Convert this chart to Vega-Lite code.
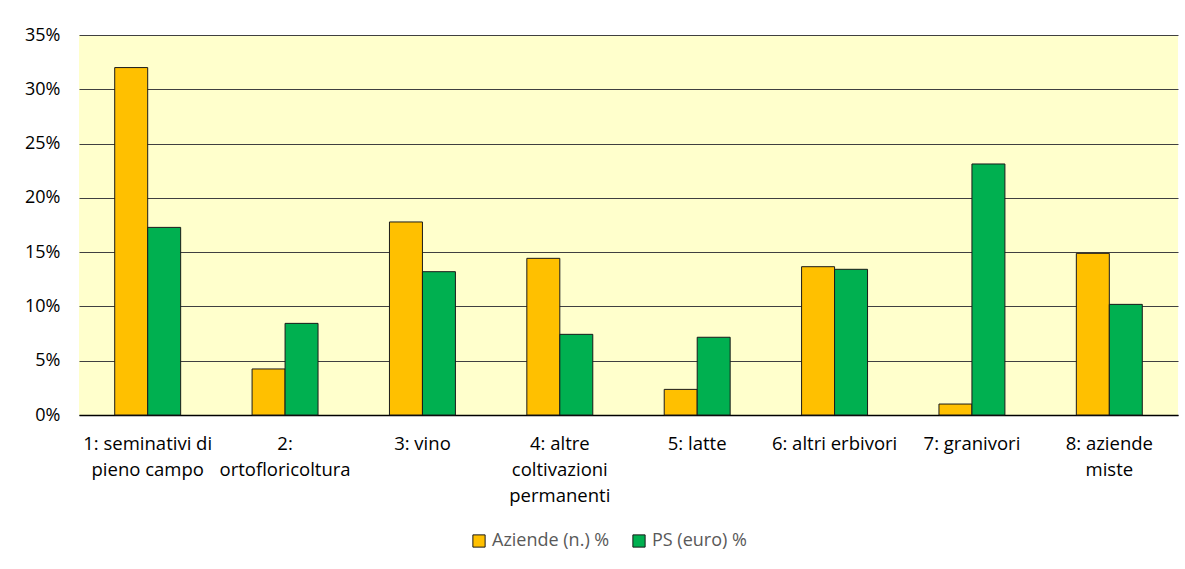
{
  "$schema": "https://vega.github.io/schema/vega-lite/v6.json",
  "width": 1099,
  "height": 380,
  "autosize": {"type": "none"},
  "padding": {"left": 79, "top": 35, "right": 7, "bottom": 154},
  "background": "#ffffff",
  "config": {
    "view": {"fill": "#FFFFCC", "stroke": null},
    "font": "Open Sans"
  },
  "data": {
    "values": [
      {"categoria": "1: seminativi di\npieno campo", "serie": "Aziende (n.) %", "valore": 0.320},
      {"categoria": "1: seminativi di\npieno campo", "serie": "PS (euro) %", "valore": 0.1728},
      {"categoria": "2:\nortofloricoltura", "serie": "Aziende (n.) %", "valore": 0.0424},
      {"categoria": "2:\nortofloricoltura", "serie": "PS (euro) %", "valore": 0.0844},
      {"categoria": "3: vino", "serie": "Aziende (n.) %", "valore": 0.1778},
      {"categoria": "3: vino", "serie": "PS (euro) %", "valore": 0.132},
      {"categoria": "4: altre\ncoltivazioni\npermanenti", "serie": "Aziende (n.) %", "valore": 0.1443},
      {"categoria": "4: altre\ncoltivazioni\npermanenti", "serie": "PS (euro) %", "valore": 0.0743},
      {"categoria": "5: latte", "serie": "Aziende (n.) %", "valore": 0.0236},
      {"categoria": "5: latte", "serie": "PS (euro) %", "valore": 0.0716},
      {"categoria": "6: altri erbivori", "serie": "Aziende (n.) %", "valore": 0.1366},
      {"categoria": "6: altri erbivori", "serie": "PS (euro) %", "valore": 0.1342},
      {"categoria": "7: granivori", "serie": "Aziende (n.) %", "valore": 0.0101},
      {"categoria": "7: granivori", "serie": "PS (euro) %", "valore": 0.2312},
      {"categoria": "8: aziende\nmiste", "serie": "Aziende (n.) %", "valore": 0.1489},
      {"categoria": "8: aziende\nmiste", "serie": "PS (euro) %", "valore": 0.1019}
    ]
  },
  "mark": {"type": "bar", "stroke": "#1a1a1a", "strokeWidth": 1},
  "encoding": {
    "x": {
      "field": "categoria",
      "type": "nominal",
      "sort": null,
      "scale": {"paddingInner": 0.52, "paddingOuter": 0.26},
      "axis": {
        "title": null,
        "labelAngle": 0,
        "labelExpr": "split(datum.label, '\\n')",
        "labelFont": "Open Sans",
        "labelFontSize": 18.5,
        "labelColor": "#000000",
        "labelLineHeight": 26,
        "labelPadding": 19,
        "labelLimit": 200,
        "ticks": false,
        "domain": true,
        "domainColor": "#000000",
        "domainWidth": 1.5,
        "grid": false
      }
    },
    "xOffset": {"field": "serie", "type": "nominal", "sort": ["Aziende (n.) %", "PS (euro) %"]},
    "y": {
      "field": "valore",
      "type": "quantitative",
      "scale": {"domain": [0, 0.35], "nice": false, "zero": true},
      "axis": {
        "title": null,
        "format": ".0%",
        "values": [0, 0.05, 0.1, 0.15, 0.2, 0.25, 0.3, 0.35],
        "labelFontSize": 18,
        "labelColor": "#000000",
        "labelPadding": 19,
        "ticks": false,
        "domain": false,
        "grid": true,
        "gridColor": "#404040",
        "gridWidth": 1
      }
    },
    "color": {
      "field": "serie",
      "type": "nominal",
      "sort": ["Aziende (n.) %", "PS (euro) %"],
      "scale": {"domain": ["Aziende (n.) %", "PS (euro) %"], "range": ["#FFC000", "#00B050"]},
      "legend": {
        "title": null,
        "orient": "none",
        "direction": "horizontal",
        "legendX": 391,
        "legendY": 497,
        "symbolType": "square",
        "symbolSize": 150,
        "symbolStrokeColor": "#1a1a1a",
        "symbolStrokeWidth": 1,
        "labelFontSize": 18,
        "labelColor": "#595959",
        "labelOffset": 4,
        "columnPadding": 20
      }
    }
  }
}
